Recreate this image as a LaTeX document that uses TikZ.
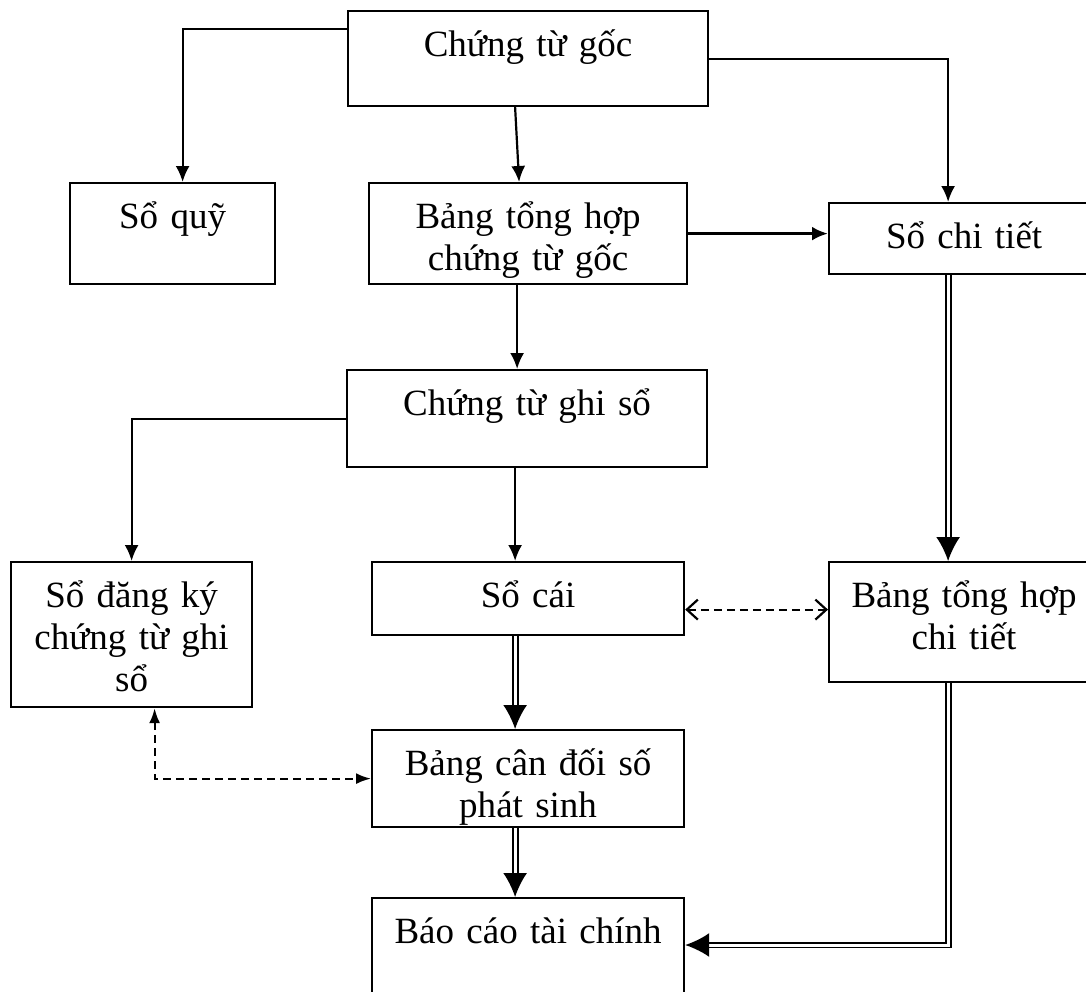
\documentclass[tikz,border=0pt]{standalone}
\usepackage{fontspec}
\setmainfont{Liberation Serif}
\usetikzlibrary{arrows.meta}

\begin{document}
\begin{tikzpicture}[
    x=1pt, y=-1pt,
    box/.style={
      draw, line width=2.2pt, anchor=north west, align=center,
      inner sep=0pt, text height=45pt,
      font=\fontsize{37}{42}\selectfont
    },
    arr/.style={
      line width=2.2pt, -{Latex[length=16pt,width=14pt]}
    },
    dbl/.style={
      double, line width=1.9pt, double distance=3pt,
      -{Latex[length=24pt,width=24pt]}
    },
    dsh/.style={
      line width=2.2pt, dash pattern=on 8pt off 5pt
    },
  ]
    \useasboundingbox (0,0) rectangle (1086,991);

    % boxes
    \node [box, text width=360pt, text depth=50pt] (goc) at (347,10) {Chứng từ gốc};
    \node [box, text width=205pt, text depth=56pt] (soquy) at (69,182) {Sổ quỹ};
    \node [box, text width=318pt, text depth=56pt] (thctg) at (368,182) {Bảng tổng hợp\\chứng từ gốc};
    \node [box, text width=270pt, text depth=26pt] (sochitiet) at (828,202) {Sổ chi tiết};
    \node [box, text width=360pt, text depth=52pt] (ctgs) at (346,369) {Chứng từ ghi sổ};
    \node [box, text width=241pt, text depth=100pt] (sodk) at (10,561) {Sổ đăng ký\\chứng từ ghi\\sổ};
    \node [box, text width=312pt, text depth=28pt] (socai) at (371,561) {Sổ cái};
    \node [box, text width=270pt, text depth=75pt] (thct) at (828,561) {Bảng tổng hợp\\chi tiết};
    \node [box, text width=312pt, text depth=52pt] (bcd) at (371,729) {Bảng cân đối số\\phát sinh};
    \node [box, text width=312pt, text depth=75pt] (bctc) at (371,897) {Báo cáo tài chính};

    % plain arrows
    \draw [arr] ([yshift=-19pt]goc.north west) -| ([xshift=10pt]soquy.north);
    \draw [arr] ([xshift=-13pt]goc.south) -- ([xshift=-9pt]thctg.north);
    \draw [arr] (goc.east) -| ([xshift=-16pt]sochitiet.north);
    \draw [arr, line width=3.4pt] (thctg.east) -- (thctg.east -| sochitiet.west);
    \draw [arr] ([xshift=-11pt]thctg.south) -- ([xshift=-10pt]ctgs.north);
    \draw [arr] (ctgs.west) -| (sodk.north);
    \draw [arr] ([xshift=-12pt]ctgs.south) -- ([xshift=-13pt]socai.north);

    % double arrows
    \draw [dbl] ([xshift=-16pt]sochitiet.south) -- ([xshift=-16pt]thct.north);
    \draw [dbl] ([xshift=-13pt]socai.south) -- ([xshift=-13pt]bcd.north);
    \draw [dbl] ([xshift=-13pt]bcd.south) -- ([xshift=-13pt]bctc.north);
    \draw [dbl] ([xshift=-16pt]thct.south) |- ([yshift=-48pt]bctc.north east);

    % dashed arrows
    \draw [dsh, {Straight Barb[length=11pt,width=20pt]}-{Straight Barb[length=11pt,width=20pt]}]
      ([yshift=-11pt]socai.east) -- ([yshift=-11pt]socai.east -| thct.west);
    \draw [dsh, {Latex[length=15pt,width=11pt]}-{Latex[length=15pt,width=11pt]}]
      ([xshift=23pt]sodk.south) |- (bcd.west);

  \end{tikzpicture}
\end{document}
